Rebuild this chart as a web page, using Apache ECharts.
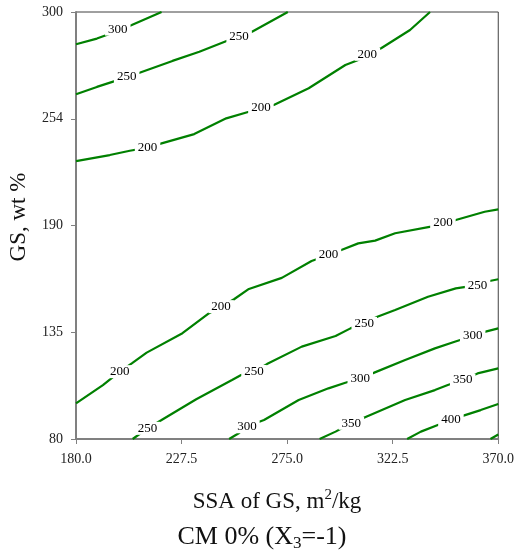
<!DOCTYPE html>
<html>
<head>
<meta charset="utf-8">
<script src="https://cdn.jsdelivr.net/npm/echarts@6/dist/echarts.min.js"></script>
<style>
html,body{margin:0;padding:0;background:#fff;}
#chart{width:517px;height:553px;}
</style>
</head>
<body>
<div id="chart"></div>
<script>
// Axis ticks
const xTickLabels = ['180.0', '227.5', '275.0', '322.5', '370.0'];
const yTickLabels = ['80', '135', '190', '254', '300'];
const X0 = 180, X_STEP = 47.5, Y0 = 80, Y_STEP = 55;

// Contour lines [SSA, GS]
const contour300Top = [[180,283.4],[189.4,286.3],[198.8,290.2],[205.1,293.3],[218.5,300]];
const contour250Top = [[180,257.6],[189.4,261.4],[197.4,264.4],[202.8,266.5],[208.6,268.7],[223.4,274.8],[235.5,279.5],[248.9,285.6],[253.4,287.1],[259.2,289.8],[275.3,300]];
const contour200Top = [[180,223.2],[195.2,226.3],[204.2,228.5],[212.2,230.1],[218.5,232.3],[233.2,237.1],[247.6,245.2],[257.8,248.6],[263.2,250.5],[269.0,252.1],[284.7,260.7],[301.2,272.7],[307.0,275.3],[311.1,278.2],[317.3,281.3],[330.3,290.7],[339.3,300]];
const contour200Low = [[180,98.4],[192.1,107.8],[199.7,114.7],[205.1,119.0],[211.8,124.5],[227.9,134.5],[239.9,144.8],[245.3,148.2],[251.1,152.0],[257.8,157.3],[272.6,163.0],[286.0,171.7],[293.6,174.8],[299.4,177.4],[307.0,180.8],[314.6,182.2],[323.6,186.0],[339.7,189.4],[345.1,191.4],[350.9,192.8],[363.9,197.1],[370,198.3]];
const contour250Low = [[205.5,80],[212.2,85.5],[218.5,89.8],[234.1,100.5],[250.2,110.4],[254.3,113.0],[260.1,114.8],[265.9,118.6],[281.6,127.6],[296.8,133.1],[303.5,137.0],[309.7,139.6],[315.6,143.0],[323.6,146.5],[338.4,153.3],[350.9,157.6],[360.7,159.3],[366.1,161.4],[370,162.3]];
const contour300Low = [[248.9,80],[253.4,83.1],[256.5,86.3],[264.6,89.8],[280.2,100.1],[293.6,106.1],[301.2,109.0],[307.9,111.3],[314.2,114.2],[328.1,120.7],[341.5,126.7],[350.4,130.1],[358.5,133.1],[364.3,135.3],[370,137.0]];
const contour350 = [[289.6,80],[296.8,83.8],[303.9,88.1],[310.6,91.5],[328.1,100.1],[341.5,105.2],[347.3,107.8],[354.0,110.4],[360.7,113.8],[370,116.4]];
const contour400 = [[329.0,80],[335.2,83.8],[342.8,87.2],[348.7,89.8],[354.0,91.9],[362.1,94.9],[370,98.0]];
const contour450 = [[366.5,80],[370,82.3]];

// Contour labels [SSA, GS, text]
const contourLabels = [
  [198.8,291.2,'300'], [202.8,266.5,'250'], [253.4,287.1,'250'],
  [212.2,230.1,'200'], [263.2,250.5,'200'], [311.1,278.2,'200'],
  [199.7,114.7,'200'], [245.3,148.2,'200'], [293.6,174.8,'200'], [345.1,191.4,'200'],
  [212.2,85.5,'250'], [260.1,114.8,'250'], [309.7,139.6,'250'], [360.7,159.3,'250'],
  [256.9,86.3,'300'], [307.9,111.3,'300'], [358.5,133.1,'300'],
  [303.9,88.1,'350'], [354.0,110.4,'350'],
  [348.7,89.8,'400']
];

const contours = [contour300Top, contour250Top, contour200Top, contour200Low, contour250Low, contour300Low, contour350, contour400, contour450];

const FONT = '"Liberation Serif", "Times New Roman", serif';
const toAxis = p => [p[0] - X0, p[1] - Y0];

const chart = echarts.init(document.getElementById('chart'), null, {renderer: 'canvas'});

const series = contours.map(c => ({
  type: 'line',
  data: c.map(toAxis),
  symbol: 'none',
  smooth: false,
  lineStyle: {color: '#008000', width: 2.2},
  z: 2,
  silent: true
}));
series.push({
  type: 'scatter',
  data: contourLabels.map(l => [l[0] - X0, l[1] - Y0, l[2]]),
  symbolSize: 1,
  itemStyle: {color: 'rgba(0,0,0,0)'},
  z: 5,
  silent: true,
  labelLayout: {hideOverlap: false},
  label: {
    show: true,
    position: 'inside',
    formatter: p => p.value[2],
    color: '#000',
    opacity: 1,
    textBorderWidth: 0,
    fontFamily: FONT,
    fontSize: 13,
    backgroundColor: '#fff',
    padding: [0, 3, 0, 3]
  }
});

chart.setOption({
  animation: false,
  backgroundColor: '#fff',
  grid: {left: 76, right: 16, top: 12, bottom: 114, show: true, borderColor: '#404040', borderWidth: 1, backgroundColor: 'transparent'},
  xAxis: {
    type: 'value', min: 0, max: (xTickLabels.length - 1) * X_STEP, interval: X_STEP,
    axisLine: {show: true, lineStyle: {color: '#808080', width: 2}},
    axisTick: {show: true, length: 5, lineStyle: {color: '#808080', width: 1}},
    splitLine: {show: false},
    axisLabel: {formatter: v => xTickLabels[Math.round(v / X_STEP)], fontFamily: FONT, fontSize: 14, color: '#222', margin: 13}
  },
  yAxis: {
    type: 'value', min: 0, max: (yTickLabels.length - 1) * Y_STEP, interval: Y_STEP,
    axisLine: {show: true, lineStyle: {color: '#808080', width: 2}},
    axisTick: {show: true, length: 5, lineStyle: {color: '#808080', width: 1}},
    splitLine: {show: false},
    axisLabel: {formatter: v => yTickLabels[Math.round(v / Y_STEP)], fontFamily: FONT, fontSize: 14, color: '#222', margin: 13}
  },
  graphic: [
    {
      type: 'text', x: 19, y: 217, rotation: Math.PI / 2,
      style: {text: 'GS, wt %', font: '23px ' + FONT, fill: '#111', align: 'center', verticalAlign: 'middle'}
    },
    {
      type: 'text', x: 277, y: 502,
      style: {
        text: '{a|SSA of GS, m}{s|2}{a|/kg}',
        align: 'center', verticalAlign: 'middle',
        rich: {
          a: {fontFamily: FONT, fontSize: 23, lineHeight: 28, fill: '#111', color: '#111'},
          s: {fontFamily: FONT, fontSize: 15, lineHeight: 16, verticalAlign: 'top', fill: '#111', color: '#111'}
        }
      }
    },
    {
      type: 'text', x: 262, y: 537,
      style: {
        text: '{a|CM 0% (X}{s|3}{a|=-1)}',
        align: 'center', verticalAlign: 'middle',
        rich: {
          a: {fontFamily: FONT, fontSize: 26, lineHeight: 31, fill: '#111', color: '#111'},
          s: {fontFamily: FONT, fontSize: 17, lineHeight: 17, verticalAlign: 'bottom', fill: '#111', color: '#111'}
        }
      }
    }
  ],
  series: series
});
</script>
</body>
</html>
